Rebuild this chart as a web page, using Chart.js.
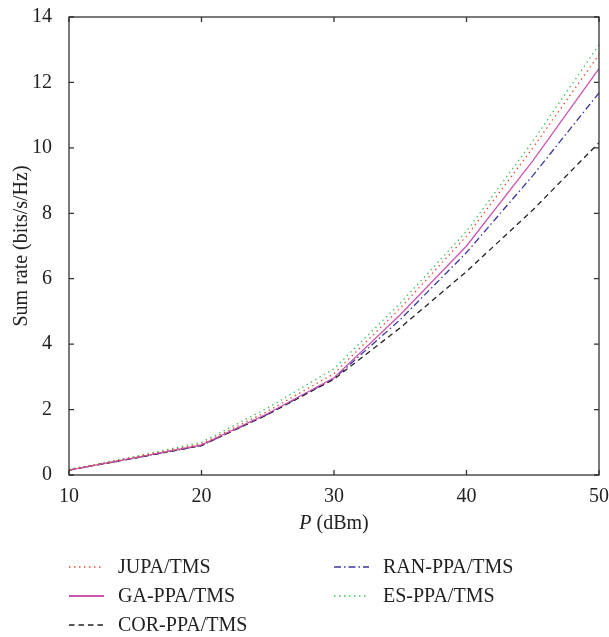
<!DOCTYPE html>
<html><head><meta charset="utf-8">
<script src="https://cdn.jsdelivr.net/npm/chart.js@4/dist/chart.umd.min.js"></script>
<style>html,body{margin:0;padding:0;background:#fff}#wrap{width:609px;height:637px;position:relative}</style>
</head><body><div id="wrap"><canvas id="c"></canvas></div>
<script>
const powerDbm = [10, 15, 20, 25, 30, 35, 40, 45, 50];
const jupa   = [0.16, 0.55, 0.95, 1.95, 3.10, 5.10, 7.30, 10.0, 12.85];
const gaPpa  = [0.15, 0.53, 0.92, 1.88, 2.97, 4.90, 7.00, 9.60, 12.42];
const corPpa = [0.15, 0.52, 0.90, 1.85, 2.93, 4.50, 6.22, 8.10, 10.16];
const ranPpa = [0.15, 0.52, 0.90, 1.86, 2.95, 4.75, 6.80, 9.15, 11.68];
const esPpa  = [0.17, 0.57, 1.00, 2.05, 3.25, 5.25, 7.45, 10.2, 13.15];
const yTicks = [0, 2, 4, 6, 8, 10, 12, 14];
const xTicks = [10, 20, 30, 40, 50];
const seriesNames = ['JUPA/TMS', 'GA-PPA/TMS', 'COR-PPA/TMS', 'RAN-PPA/TMS', 'ES-PPA/TMS'];

const FONT = '"Liberation Serif", "Times New Roman", serif';
const FS = 20;
const mk = (label, data, color, dash) => ({
  label, data: powerDbm.map((x, i) => ({x, y: data[i]})),
  borderColor: color, backgroundColor: color, borderWidth: 1.3,
  borderDash: dash, pointRadius: 0, tension: 0, fill: false
});
const datasets = [
  mk(seriesNames[0], jupa, '#f04a35', [1.5, 3.5]),
  mk(seriesNames[1], gaPpa, '#cc55b0', []),
  mk(seriesNames[2], corPpa, '#222222', [5.5, 4]),
  mk(seriesNames[3], ranPpa, '#3838a0', [7, 3, 1.5, 3]),
  mk(seriesNames[4], esPpa, '#40c45a', [1.5, 3.5])
];

const framePlugin = {
  id: 'frame',
  afterDraw(chart) {
    const {ctx, chartArea: a, scales: {x, y}} = chart;
    ctx.save();
    ctx.strokeStyle = '#333'; ctx.lineWidth = 1.3; ctx.setLineDash([]);
    ctx.strokeRect(a.left, a.top, a.right - a.left, a.bottom - a.top);
    const L = 5;
    ctx.beginPath();
    xTicks.forEach(v => { const px = x.getPixelForValue(v);
      ctx.moveTo(px, a.bottom); ctx.lineTo(px, a.bottom - L);
      ctx.moveTo(px, a.top); ctx.lineTo(px, a.top + L); });
    yTicks.forEach(v => { const py = y.getPixelForValue(v);
      ctx.moveTo(a.left, py); ctx.lineTo(a.left + L, py);
      ctx.moveTo(a.right, py); ctx.lineTo(a.right - L, py); });
    ctx.stroke();
    // x title with italic P
    ctx.fillStyle = '#222'; ctx.textBaseline = 'middle';
    const t1 = 'P', t2 = ' (dBm)';
    ctx.font = 'italic ' + FS + 'px ' + FONT; const w1 = ctx.measureText(t1).width;
    ctx.font = FS + 'px ' + FONT; const w2 = ctx.measureText(t2).width;
    const cx = (a.left + a.right) / 2, ty = a.bottom + 49;
    let sx = cx - (w1 + w2) / 2;
    ctx.font = 'italic ' + FS + 'px ' + FONT; ctx.textAlign = 'left'; ctx.fillText(t1, sx, ty);
    ctx.font = FS + 'px ' + FONT; ctx.fillText(t2, sx + w1, ty);
    // y title
    ctx.save();
    ctx.translate(22, (a.top + a.bottom) / 2); ctx.rotate(-Math.PI / 2);
    ctx.textAlign = 'center'; ctx.font = FS + 'px ' + FONT;
    ctx.fillText('Sum rate (bits/s/Hz)', 0, 0);
    ctx.restore();
    // legend: column-major, 3 rows
    const ds = chart.data.datasets;
    const colX = [69, 334], rowY0 = 567, rowH = 29;
    ds.forEach((d, i) => {
      const col = Math.floor(i / 3), row = i % 3;
      const lx = colX[col], ly = rowY0 + row * rowH;
      ctx.strokeStyle = d.borderColor; ctx.lineWidth = d.label === 'GA-PPA/TMS' ? 1.8 : 1.3;
      ctx.setLineDash(d.borderDash);
      ctx.beginPath(); ctx.moveTo(lx, ly); ctx.lineTo(lx + 35, ly); ctx.stroke();
      ctx.setLineDash([]);
      ctx.fillStyle = '#222'; ctx.font = FS + 'px ' + FONT; ctx.textAlign = 'left';
      ctx.fillText(d.label, lx + 49, ly + 1);
    });
    ctx.restore();
  }
};

new Chart(document.getElementById('c'), {
  type: 'line',
  data: {datasets},
  options: {
    responsive: true, maintainAspectRatio: false, animation: false,
    layout: {padding: {top: 17, right: 10, left: 0, bottom: 0}},
    plugins: {legend: {display: false}, tooltip: {enabled: false}},
    scales: {
      x: {type: 'linear', min: 10, max: 50,
        afterBuildTicks: s => { s.ticks = xTicks.map(v => ({value: v})); },
        afterFit: s => { s.height = 162; s.paddingRight = 0; s.paddingLeft = 0; },
        grid: {display: false}, border: {display: false},
        ticks: {color: '#222', font: {family: FONT, size: FS}, padding: 2, maxRotation: 0}
      },
      y: {type: 'linear', min: 0, max: 14,
        afterBuildTicks: s => { s.ticks = yTicks.map(v => ({value: v})); },
        afterFit: s => { s.width = 69; s.paddingTop = 0; s.paddingBottom = 0; },
        grid: {display: false}, border: {display: false},
        ticks: {color: '#222', font: {family: FONT, size: FS}, padding: 9}
      }
    }
  },
  plugins: [framePlugin]
});
</script></body></html>
